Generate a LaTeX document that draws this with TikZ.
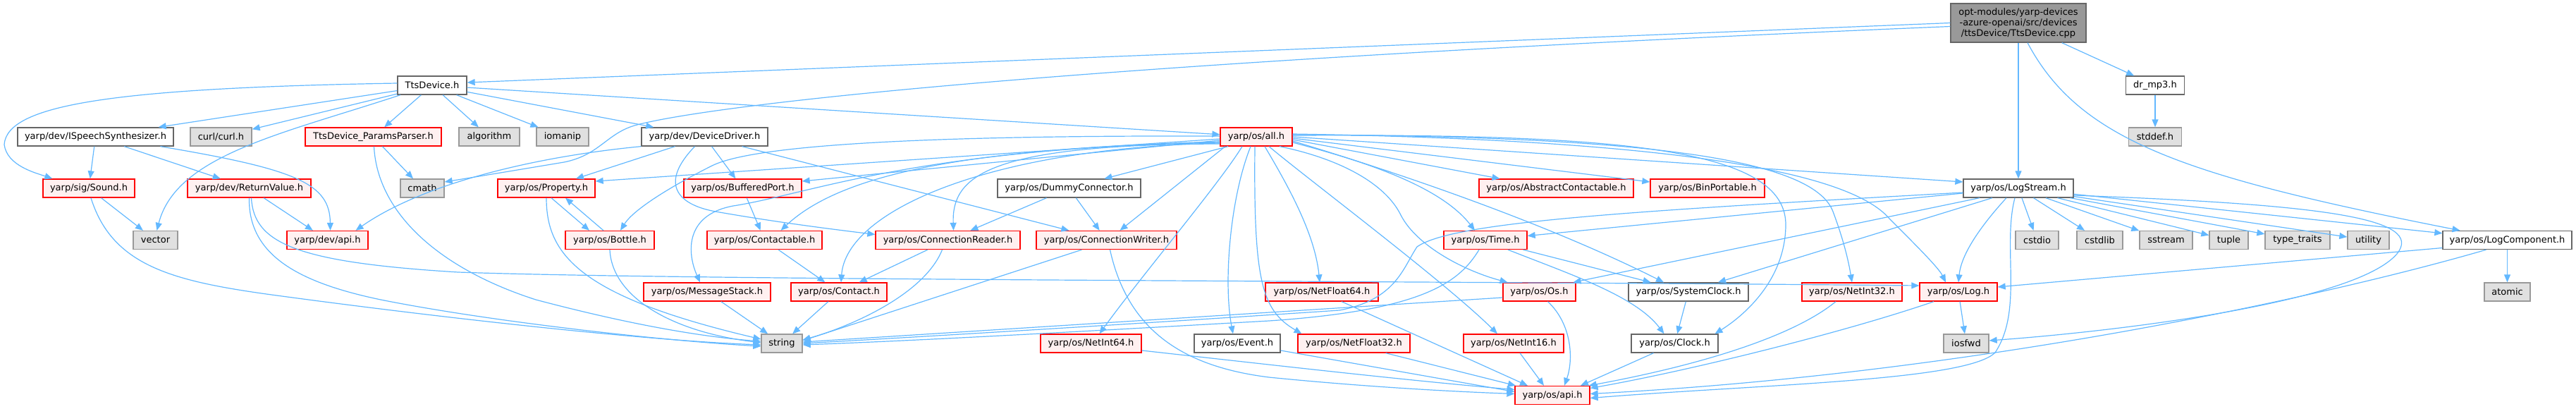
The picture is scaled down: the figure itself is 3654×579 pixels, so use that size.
\documentclass[tikz,border=0pt]{standalone}
\usepackage{fontspec}
\setmainfont{DejaVu Sans}
\usetikzlibrary{arrows.meta}
\definecolor{edgec}{HTML}{63B8FF}
\definecolor{redfill}{HTML}{FFF0F0}
\definecolor{redline}{HTML}{FF0000}
\definecolor{grayfill}{HTML}{E0E0E0}
\definecolor{grayline}{HTML}{999999}
\definecolor{darkline}{HTML}{666666}
\definecolor{cppfill}{HTML}{999999}
\tikzset{
  nbox/.style={minimum height=26pt, inner sep=0pt, line width=1.3pt, font=\fontsize{13}{15}\selectfont, anchor=center},
  rednode/.style={nbox, draw=redline, fill=redfill},
  whitenode/.style={nbox, draw=darkline, fill=white},
  graynode/.style={nbox, draw=grayline, fill=grayfill},
  cppnode/.style={nbox, draw=darkline, fill=cppfill, align=center},
  conn/.style={draw=edgec, line width=1.2pt, -{Triangle[length=11pt,width=9pt]}}
}
\begin{document}
\begin{tikzpicture}[x=1pt,y=-1pt]
\useasboundingbox (0,0) rectangle (3654,579);
% row 0
\node[cppnode, minimum width=192pt, minimum height=55pt] (cpp) at (2863,32.5) {opt-modules/yarp-devices\\-azure-openai/src/devices\\/ttsDevice/TtsDevice.cpp};
% row 1
\node[whitenode, minimum width=98pt] (B) at (613,121) {TtsDevice.h};
\node[whitenode, minimum width=83pt] (C) at (3057,121) {dr\_mp3.h};
% row 2
\node[whitenode, minimum width=221pt] (G) at (135.5,194) {yarp/dev/ISpeechSynthesizer.h};
\node[graynode, minimum width=87pt] (H) at (313.5,194) {curl/curl.h};
\node[rednode, minimum width=193pt] (I) at (529.5,194) {TtsDevice\_ParamsParser.h};
\node[graynode, minimum width=86pt] (J) at (694,194) {algorithm};
\node[graynode, minimum width=74pt] (K) at (798,194) {iomanip};
\node[whitenode, minimum width=179pt] (L) at (999.5,194) {yarp/dev/DeviceDriver.h};
\node[rednode, minimum width=102pt] (M) at (1782,194) {yarp/os/all.h};
\node[graynode, minimum width=75pt] (D) at (3057,194) {stddef.h};
% row 3
\node[rednode, minimum width=130pt] (N) at (126,267) {yarp/sig/Sound.h};
\node[rednode, minimum width=175pt] (O) at (353.5,267) {yarp/dev/ReturnValue.h};
\node[graynode, minimum width=62pt] (P) at (599,267) {cmath};
\node[rednode, minimum width=138pt] (Q) at (775,267) {yarp/os/Property.h};
\node[rednode, minimum width=167pt] (R) at (1053.5,267) {yarp/os/BufferedPort.h};
\node[whitenode, minimum width=203pt] (S) at (1516.5,267) {yarp/os/DummyConnector.h};
\node[rednode, minimum width=219pt] (T) at (2207.5,267) {yarp/os/AbstractContactable.h};
\node[rednode, minimum width=162pt] (U) at (2422,267) {yarp/os/BinPortable.h};
\node[whitenode, minimum width=156pt] (E) at (2863,267) {yarp/os/LogStream.h};
% row 4
\node[graynode, minimum width=63pt] (V) at (220.5,340.5) {vector};
\node[rednode, minimum width=115pt] (W) at (464.5,340.5) {yarp/dev/api.h};
\node[rednode, minimum width=126pt] (X) at (865,340.5) {yarp/os/Bottle.h};
\node[rednode, minimum width=163pt] (Y) at (1084.5,340.5) {yarp/os/Contactable.h};
\node[rednode, minimum width=205pt] (Z) at (1344.5,340.5) {yarp/os/ConnectionReader.h};
\node[rednode, minimum width=199pt] (AA) at (1569.5,340.5) {yarp/os/ConnectionWriter.h};
\node[rednode, minimum width=118pt] (AB) at (2107,340.5) {yarp/os/Time.h};
\node[graynode, minimum width=61pt] (cstdio) at (2889.5,340.5) {cstdio};
\node[graynode, minimum width=65pt] (cstdlib) at (2978.5,340.5) {cstdlib};
\node[graynode, minimum width=75pt] (sstream) at (3072.5,340.5) {sstream};
\node[graynode, minimum width=55pt] (tuple) at (3161.5,340.5) {tuple};
\node[graynode, minimum width=92pt] (ttraits) at (3259,340.5) {type\_traits};
\node[graynode, minimum width=59pt] (utility) at (3359.5,340.5) {utility};
\node[whitenode, minimum width=183pt] (F) at (3556.5,340.5) {yarp/os/LogComponent.h};
% row 5
\node[rednode, minimum width=180pt] (AC) at (1003,414) {yarp/os/MessageStack.h};
\node[rednode, minimum width=136pt] (AD) at (1190,414) {yarp/os/Contact.h};
\node[rednode, minimum width=160pt] (AE) at (1875,414) {yarp/os/NetFloat64.h};
\node[rednode, minimum width=103pt] (AF) at (2183.5,414) {yarp/os/Os.h};
\node[whitenode, minimum width=170pt] (AG) at (2395,414) {yarp/os/SystemClock.h};
\node[rednode, minimum width=142pt] (AH) at (2627,414) {yarp/os/NetInt32.h};
\node[rednode, minimum width=110pt] (AI) at (2778,414) {yarp/os/Log.h};
\node[graynode, minimum width=65pt] (AJ) at (3556.5,414) {atomic};
% row 6
\node[graynode, minimum width=58pt] (AK) at (1109,487) {string};
\node[rednode, minimum width=143pt] (AL) at (1547.5,487) {yarp/os/NetInt64.h};
\node[whitenode, minimum width=122pt] (AM) at (1755,487) {yarp/os/Event.h};
\node[rednode, minimum width=159pt] (AN) at (1920.5,487) {yarp/os/NetFloat32.h};
\node[rednode, minimum width=142pt] (AO) at (2147,487) {yarp/os/NetInt16.h};
\node[whitenode, minimum width=123pt] (AP) at (2375.5,487) {yarp/os/Clock.h};
\node[graynode, minimum width=64pt] (AQ) at (2789,487) {iosfwd};
% row 7
\node[rednode, minimum width=106pt] (AR) at (2202,560.5) {yarp/os/api.h};

% ---- edges from TtsDevice.cpp
\draw[conn] (cpp.west) -- ([yshift=4pt]B.east);
\draw[conn] (cpp) -- (C);
\draw[conn] (cpp) -- (E);
\draw[conn] ([xshift=13pt]cpp.south) .. controls (2950,200) and (3100,250) .. ([xshift=-67pt]F.north);
\draw[conn] ([yshift=-5pt]cpp.west) .. controls (1500,90) and (1000,150) .. (900,178) .. controls (860,190) and (850,220) .. (800,230) .. controls (740,240) and (680,250) .. ([yshift=9pt]P.east);
\draw[conn] (C) -- (D);
% ---- TtsDevice.h
\draw[conn] (B) -- (G);
\draw[conn] (B) -- (H);
\draw[conn] (B) -- (I);
\draw[conn] (B) -- (J);
\draw[conn] (B) -- (K);
\draw[conn] ([yshift=3pt]B.west) .. controls (150,125) and (10,150) .. (6,205) .. controls (10,235) and (50,245) .. ([xshift=14pt]N.north west);
\draw[conn] ([xshift=-45pt]B.south) .. controls (400,190) and (250,220) .. ([xshift=2pt]V.north);
\draw[conn] (B) -- (L);
\draw[conn] (B) -- (M);
% ---- ISpeechSynthesizer
\draw[conn] (G) -- (N);
\draw[conn] (G) -- (O);
\draw[conn] ([xshift=92pt]G.south) .. controls (420,240) and (468,260) .. ([xshift=4pt]W.north);
% ---- ParamsParser
\draw[conn] (I) -- (P);
\draw[conn] ([xshift=1pt]I.south) .. controls (535,300) and (620,380) .. (760,425) .. controls (900,462) and (1000,478) .. ([yshift=3pt]AK.west);
% ---- Sound
\draw[conn] (N) -- (V);
\draw[conn] ([xshift=3pt]N.south) .. controls (160,380) and (250,400) .. (400,420) .. controls (600,447) and (900,482) .. ([yshift=-2pt]AK.west);
% ---- ReturnValue
\draw[conn] (O) -- (W);
\draw[conn] (O.south) .. controls (352,360) and (420,400) .. (540,425) .. controls (700,457) and (950,484) .. ([yshift=-4pt]AK.west);
\draw[conn] ([xshift=3pt]O.south) .. controls (360,345) and (420,372) .. (650,386) .. controls (1000,398) and (2000,398) .. ([yshift=9pt]AI.west);
% ---- DeviceDriver
\draw[conn] (L.south west) .. controls (760,222) and (600,260) .. ([xshift=40pt]W.north);
\draw[conn] (L) -- (Q);
\draw[conn] (L) -- (R);
\draw[conn] (L) -- (AA);
\draw[conn] ([xshift=-14pt]L.south) .. controls (935,260) and (960,290) .. (1015,300) .. controls (1100,315) and (1180,325) .. ([yshift=8pt]Z.west);
% ---- Property / Bottle
\draw[conn] ([xshift=7pt]Q.south) -- ([xshift=-29pt]X.north);
\draw[conn] ([xshift=-9pt]X.north) -- ([xshift=27pt]Q.south);
\draw[conn] (Q.south) .. controls (775,360) and (820,420) .. ([yshift=6pt]AK.west);
\draw[conn] (X.south) .. controls (868,420) and (950,470) .. ([yshift=1pt]AK.west);
% ---- all.h
\draw[conn] ([yshift=-3pt]M.west) -- ([yshift=10pt]Q.east);
\draw[conn] ([yshift=-5pt]M.west) -- ([yshift=10pt]R.east);
\draw[conn] ([yshift=1pt]M.west) .. controls (1400,192) and (1080,200) .. (1010,235) .. controls (960,260) and (900,295) .. ([xshift=15pt]X.north);
\draw[conn] ([yshift=-7pt]M.west) .. controls (1400,210) and (1200,240) .. ([xshift=23pt]Y.north);
\draw[conn] ([yshift=-8pt]M.west) .. controls (1300,210) and (1150,275) .. (1040,292) .. controls (970,305) and (975,360) .. ([xshift=-10pt]AC.north);
\draw[conn] ([yshift=-9pt]M.west) .. controls (1400,210) and (1200,300) .. ([xshift=3pt]AD.north);
\draw[conn] ([yshift=-10pt]M.west) .. controls (1400,205) and (1350,250) .. ([xshift=8pt]Z.north);
\draw[conn] ([xshift=-40pt]M.south) -- ([xshift=50pt]S.north);
\draw[conn] ([xshift=-44pt]M.south) -- ([xshift=19pt]AA.north);
\draw[conn] ([xshift=-20pt]M.south) .. controls (1730,260) and (1620,390) .. ([xshift=12pt]AL.north);
\draw[conn] ([xshift=-8pt]M.south) .. controls (1745,280) and (1735,400) .. ([xshift=-6pt]AM.north);
\draw[conn] ([xshift=-2pt]M.south) .. controls (1778,400) and (1790,440) .. ([xshift=-74pt]AN.north);
\draw[conn] ([xshift=12pt]M.south) .. controls (1825,260) and (1865,330) .. ([xshift=-3pt]AE.north);
\draw[conn] ([xshift=18pt]M.south) .. controls (1850,250) and (2050,400) .. ([xshift=-23pt]AO.north);
\draw[conn] ([xshift=33pt]M.south) .. controls (1900,225) and (1965,260) .. (1987,305) .. controls (2010,350) and (2080,385) .. ([xshift=-45pt]AF.north);
\draw[conn] ([yshift=-8pt]M.east) .. controls (1920,225) and (2040,260) .. ([xshift=-15pt]AB.north);
\draw[conn] ([yshift=-6pt]M.east) .. controls (2000,250) and (2200,320) .. ([xshift=-35pt]AG.north);
\draw[conn] ([yshift=-4pt]M.east) -- ([xshift=-80pt]T.north);
\draw[conn] ([yshift=-2pt]M.east) -- ([yshift=9pt]U.west);
\draw[conn] (M.east) -- ([yshift=9pt]E.west);
\draw[conn] ([yshift=2pt]M.east) .. controls (2300,190) and (2535,210) .. (2533,320) .. controls (2532,400) and (2470,450) .. ([xshift=57pt]AP.north);
\draw[conn] ([yshift=3pt]M.east) .. controls (2300,193) and (2570,220) .. (2600,300) .. controls (2615,340) and (2622,370) .. (AH.north);
\draw[conn] ([yshift=4pt]M.east) .. controls (2350,198) and (2620,240) .. (2680,310) .. controls (2720,350) and (2750,380) .. ([xshift=-18pt]AI.north);
% ---- middle layer
\draw[conn] (R) -- (Y);
\draw[conn] (S) -- (Z);
\draw[conn] (S) -- (AA);
\draw[conn] (Y) -- (AD);
\draw[conn] (Z) -- (AD);
\draw[conn] ([xshift=-8pt]Z.south) .. controls (1310,420) and (1200,465) .. ([yshift=5pt]AK.east);
\draw[conn] ([xshift=-35pt]AA.south) -- ([yshift=4pt]AK.east);
\draw[conn] ([xshift=5pt]AA.south) .. controls (1600,470) and (1680,520) .. (1800,535) .. controls (1950,550) and (2080,556) .. ([yshift=2pt]AR.west);
\draw[conn] (AC) -- (AK);
\draw[conn] (AD) -- (AK);
% ---- Time / Os
\draw[conn] ([xshift=-9pt]AB.south) .. controls (2070,400) and (2020,440) .. (1800,455) .. controls (1500,472) and (1300,483) .. ([yshift=-2pt]AK.east);
\draw[conn] ([yshift=-8pt]AF.west) -- ([yshift=2pt]AK.east);
\draw[conn] (AB) -- (AG);
\draw[conn] ([xshift=32pt]AB.south) .. controls (2230,390) and (2320,420) .. ([xshift=-15pt]AP.north);
\draw[conn] (AG) -- (AP);
\draw[conn] ([xshift=12pt]AF.south) .. controls (2230,460) and (2232,510) .. ([xshift=17pt]AR.north);
% ---- LogStream
\draw[conn] ([yshift=-6pt]E.west) .. controls (2300,300) and (2060,315) .. (2010,350) .. controls (1990,380) and (1980,425) .. (1900,440) .. controls (1600,460) and (1300,478) .. (AK.east);
\draw[conn] ([yshift=-7pt]E.west) -- ([yshift=6pt]AB.east);
\draw[conn] ([xshift=-55pt]E.south) -- ([xshift=48pt]AF.north);
\draw[conn] ([xshift=-37pt]E.south) -- ([xshift=42pt]AG.north);
\draw[conn] ([xshift=-17pt]E.south) .. controls (2810,320) and (2782,360) .. (AI.north);
\draw[conn] ([xshift=-5pt]E.south) .. controls (2840,350) and (2870,440) .. (2830,500) .. controls (2790,540) and (2500,545) .. ([yshift=-4pt]AR.east);
\draw[conn] (E) -- (cstdio);
\draw[conn] (E) -- (cstdlib);
\draw[conn] (E) -- (sstream);
\draw[conn] (E) -- (tuple);
\draw[conn] (E) -- (ttraits);
\draw[conn] (E) -- (utility);
\draw[conn] (E) -- (F);
\draw[conn] ([yshift=-10pt]E.east) .. controls (3300,290) and (3440,310) .. (3400,360) .. controls (3340,430) and (3000,470) .. ([yshift=4pt]AQ.east);
% ---- to os/api.h
\draw[conn] ([xshift=28pt]AE.south) -- ([xshift=-35pt]AR.north);
\draw[conn] ([xshift=45pt]AN.south) -- ([xshift=-52pt]AR.north);
\draw[conn] ([xshift=9pt]AO.south) -- ([xshift=-12pt]AR.north);
\draw[conn] ([xshift=-30pt]AP.south) -- ([xshift=40pt]AR.north);
\draw[conn] ([xshift=-23pt]AH.south) .. controls (2540,480) and (2400,520) .. ([xshift=-2pt]AR.north east);
\draw[conn] ([yshift=-10pt]AL.east) .. controls (1800,517) and (2000,540) .. ([yshift=8pt]AR.west);
\draw[conn] ([yshift=-10pt]AM.east) -- ([yshift=5pt]AR.west);
% ---- Log / LogComponent
\draw[conn] (AI) -- (AQ);
\draw[conn] ([xshift=-35pt]AI.south) .. controls (2620,470) and (2400,525) .. ([yshift=10pt]AR.east);
\draw[conn] ([yshift=-11pt]F.west) -- ([yshift=7pt]AI.east);
\draw[conn] (F) -- (AJ);
\draw[conn] ([xshift=-30pt]F.south) .. controls (3300,420) and (2800,530) .. ([yshift=2pt]AR.east);
\end{tikzpicture}
\end{document}
